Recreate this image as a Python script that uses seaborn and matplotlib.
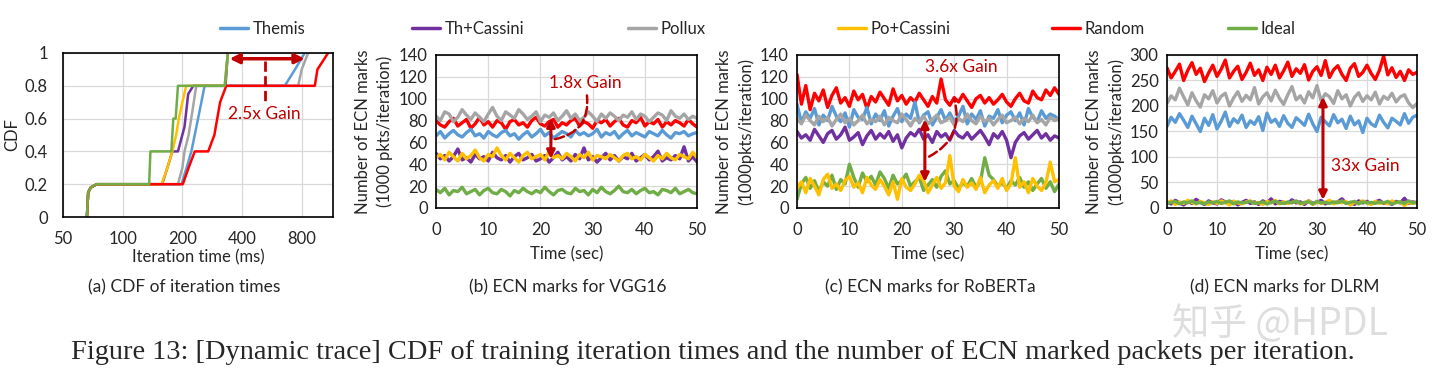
import numpy as np
import matplotlib.pyplot as plt
import seaborn as sns
from matplotlib.lines import Line2D
from matplotlib.ticker import FixedLocator, NullLocator

sns.set_style("whitegrid", {"grid.color": "#d9d9d9", "axes.edgecolor": "black"})
plt.rcParams['font.family'] = ['Lato', 'DejaVu Sans']

names = ['Themis', 'Th+Cassini', 'Pollux', 'Po+Cassini', 'Random', 'Ideal']
colors = ['#5B9BD5', '#7030A0', '#A5A5A5', '#FFC000', '#FF0000', '#70AD47']
gain_red = '#C00000'

# (a) CDF of iteration times (ms)
cdf_time = {
    'Themis':     [66, 67, 69, 74, 198, 210, 222, 240, 259, 657, 740, 828],
    'Th+Cassini': [66, 67, 69, 74, 158, 168, 178, 190, 205, 214, 227, 330, 339],
    'Pollux':     [66, 67, 69, 74, 190, 200, 205, 215, 225, 235, 767, 800, 861],
    'Po+Cassini': [66, 67, 69, 74, 157, 168, 178, 186, 192, 200, 209, 327, 339],
    'Random':     [66, 67, 69, 74, 201, 215, 231, 270, 290, 310, 333, 931, 960, 1086],
    'Ideal':      [66, 67, 69, 74, 136, 138, 176, 180, 185, 190, 327, 339],
}
cdf_val = {
    'Themis':     [0, .15, .18, .2, .2, .3, .4, .6, .8, .8, .9, 1],
    'Th+Cassini': [0, .15, .18, .2, .2, .3, .4, .4, .55, .75, .8, .8, 1],
    'Pollux':     [0, .15, .18, .2, .2, .3, .4, .5, .65, .8, .8, .9, 1],
    'Po+Cassini': [0, .15, .18, .2, .2, .3, .4, .5, .6, .7, .8, .8, 1],
    'Random':     [0, .15, .18, .2, .2, .3, .4, .4, .5, .7, .8, .8, .9, 1],
    'Ideal':      [0, .15, .18, .2, .2, .4, .4, .6, .6, .8, .8, 1],
}
iter_ticks = [50, 100, 200, 400, 800]

# ECN marks over time, 61 samples in 0..50 s
t_sec = np.linspace(0, 50, 61)

vgg = {
    'Pollux': [84, 80, 88, 86, 79, 83, 90, 85, 81, 87,
               83, 79, 86, 92, 84, 80, 88, 85, 82, 90,
               86, 81, 84, 88, 79, 85, 83, 87, 80, 84,
               89, 82, 86, 80, 83, 88, 84, 79, 86, 82,
               87, 84, 80, 85, 83, 88, 81, 86, 84, 79,
               83, 87, 85, 80, 89, 84, 82, 86, 81, 84, 82],
    'Random': [80, 76, 74, 79, 82, 75, 78, 81, 73, 77,
               83, 76, 79, 74, 80, 78, 72, 79, 81, 76,
               78, 74, 80, 83, 77, 75, 79, 81, 74, 78,
               76, 80, 82, 75, 79, 77, 73, 80, 78, 81,
               75, 79, 82, 76, 74, 80, 78, 83, 75, 79,
               77, 81, 74, 79, 76, 80, 78, 75, 81, 77, 74],
    'Themis': [66, 70, 64, 68, 71, 67, 65, 69, 72, 66,
               68, 64, 70, 67, 65, 69, 71, 66, 68, 63,
               67, 70, 65, 68, 72, 66, 69, 64, 67, 70,
               68, 65, 71, 67, 69, 66, 68, 72, 65, 69,
               67, 70, 64, 68, 71, 66, 69, 67, 65, 70,
               68, 66, 71, 67, 64, 69, 68, 70, 66, 68, 69],
    'Th+Cassini': [50, 45, 48, 43, 47, 54, 44, 46, 42, 49,
                   45, 47, 43, 51, 46, 44, 48, 42, 47, 50,
                   44, 46, 49, 43, 45, 48, 42, 46, 51, 44,
                   47, 43, 49, 45, 55, 44, 47, 42, 46, 50,
                   44, 48, 43, 47, 45, 50, 43, 46, 49, 44,
                   47, 52, 43, 46, 44, 48, 45, 56, 43, 47, 42],
    'Po+Cassini': [46, 49, 44, 51, 47, 43, 50, 45, 48, 53,
                   46, 43, 49, 47, 55, 48, 44, 50, 46, 42,
                   48, 51, 45, 47, 49, 44, 52, 46, 48, 45,
                   50, 47, 43, 49, 46, 51, 44, 48, 47, 45,
                   49, 46, 43, 48, 50, 45, 47, 44, 49, 46,
                   43, 48, 45, 50, 46, 44, 49, 47, 45, 51, 46],
    'Ideal': [17, 14, 18, 12, 16, 15, 19, 13, 15, 17,
              12, 16, 18, 14, 13, 17, 15, 11, 16, 14,
              18, 15, 13, 16, 14, 19, 15, 12, 16, 17,
              14, 13, 18, 15, 16, 12, 17, 14, 19, 15,
              13, 16, 20, 15, 14, 17, 13, 16, 18, 14,
              15, 12, 17, 16, 14, 18, 13, 15, 17, 14, 13],
}

roberta = {
    'Random': [122, 95, 112, 90, 105, 98, 108, 92, 103, 110,
               96, 101, 93, 107, 99, 104, 91, 102, 97, 106,
               100, 94, 109, 98, 103, 95, 101, 97, 105, 99,
               93, 102, 96, 118, 99, 94, 101, 97, 104, 98,
               92, 100, 103, 96, 101, 95, 99, 104, 97, 93,
               100, 105, 98, 96, 107, 101, 99, 108, 103, 110, 104],
    'Themis': [95, 78, 88, 82, 91, 76, 85, 80, 93, 84,
               79, 87, 74, 90, 83, 81, 92, 77, 86, 80,
               89, 75, 84, 91, 79, 86, 82, 97, 78, 85,
               88, 76, 83, 90, 80, 87, 79, 84, 93, 77,
               86, 81, 89, 75, 84, 82, 90, 78, 85, 88,
               80, 87, 76, 91, 83, 79, 89, 82, 86, 84, 81],
    'Pollux': [82, 77, 85, 80, 76, 84, 79, 83, 75, 81,
               86, 78, 82, 76, 80, 85, 77, 81, 79, 84,
               76, 83, 80, 78, 86, 81, 75, 82, 79, 84,
               77, 81, 85, 78, 80, 83, 76, 82, 79, 86,
               80, 77, 84, 79, 82, 76, 81, 85, 78, 80,
               83, 77, 82, 79, 85, 78, 81, 76, 83, 80, 82],
    'Th+Cassini': [70, 64, 67, 62, 72, 66, 60, 68, 71, 63,
                   67, 74, 62, 65, 69, 58, 66, 71, 63, 68,
                   64, 70, 61, 67, 55, 64, 69, 66, 72, 63,
                   67, 60, 70, 65, 68, 62, 71, 66, 64, 69,
                   63, 67, 71, 65, 58, 68, 64, 70, 62, 46,
                   60, 66, 69, 63, 67, 71, 64, 68, 62, 66, 64],
    'Ideal': [8, 22, 28, 18, 25, 15, 24, 20, 30, 17,
              26, 22, 40, 28, 19, 32, 24, 29, 21, 33,
              27, 18, 30, 22, 25, 31, 20, 24, 28, 16,
              21, 26, 19, 29, 34, 22, 25, 18, 23, 20,
              27, 19, 24, 46, 30, 26, 20, 23, 18, 25,
              21, 28, 19, 24, 16, 22, 27, 18, 24, 15, 22],
    'Po+Cassini': [18, 24, 14, 27, 20, 12, 26, 31, 18, 22,
                   16, 25, 29, 19, 23, 14, 28, 21, 17, 26,
                   20, 12, 24, 8, 27, 19, 16, 22, 30, 25,
                   14, 21, 28, 18, 23, 48, 20, 15, 26, 19,
                   23, 17, 28, 14, 21, 25, 18, 27, 16, 22,
                   46, 19, 24, 14, 27, 20, 16, 23, 42, 24, 26],
}

dlrm = {
    'Random': [275, 255, 268, 282, 250, 270, 285, 262, 274, 248,
               265, 280, 258, 272, 290, 255, 268, 278, 252, 266,
               284, 260, 271, 250, 276, 262, 280, 255, 269, 286,
               258, 273, 264, 281, 251, 268, 277, 260, 289, 256,
               271, 279, 262, 250, 274, 283, 258, 266, 280, 264,
               252, 270, 298, 261, 275, 256, 268, 250, 271, 262, 266],
    'Pollux': [205, 220, 212, 235, 218, 202, 226, 210, 198, 222,
               214, 230, 206, 219, 225, 200, 216, 228, 209, 221,
               212, 236, 204, 218, 226, 210, 231, 215, 203, 222,
               238, 212, 220, 206, 228, 216, 240, 210, 224, 218,
               205, 230, 214, 222, 200, 217, 226, 209, 220, 212,
               227, 204, 219, 213, 225, 208, 218, 222, 206, 197, 205],
    'Themis': [160, 178, 168, 185, 172, 158, 180, 165, 150, 176,
               162, 183, 155, 170, 188, 160, 175, 167, 182, 158,
               171, 164, 179, 152, 186, 168, 174, 160, 181, 166,
               158, 177, 170, 162, 184, 165, 150, 178, 169, 161,
               183, 167, 174, 156, 180, 163, 171, 148, 176, 165,
               160, 182, 168, 157, 176, 170, 163, 185, 166, 178, 182],
    'Th+Cassini': [12, 8, 15, 10, 6, 13, 9, 17, 11, 7,
                   14, 10, 8, 16, 12, 9, 13, 6, 11, 15,
                   9, 12, 7, 14, 10, 18, 8, 13, 11, 9,
                   16, 10, 12, 7, 14, 9, 11, 15, 8, 13,
                   10, 12, 18, 9, 11, 7, 14, 10, 13, 8,
                   12, 15, 9, 11, 7, 13, 10, 19, 9, 12, 10],
    'Po+Cassini': [10, 14, 7, 12, 9, 15, 11, 8, 13, 10,
                   7, 12, 9, 14, 11, 6, 13, 10, 8, 12,
                   14, 9, 11, 7, 13, 10, 15, 8, 12, 9,
                   11, 13, 8, 10, 14, 7, 12, 9, 11, 15,
                   8, 12, 10, 13, 6, 11, 9, 14, 10, 7,
                   13, 9, 11, 8, 14, 10, 12, 5, 11, 9, 12],
    'Ideal': [9, 11, 13, 8, 12, 10, 14, 9, 11, 8,
              12, 10, 13, 9, 11, 14, 8, 12, 10, 11,
              13, 9, 10, 12, 8, 11, 13, 10, 9, 12,
              10, 14, 9, 11, 12, 8, 13, 10, 11, 9,
              12, 10, 14, 9, 11, 13, 8, 12, 10, 11,
              9, 12, 10, 13, 8, 11, 12, 9, 14, 10, 11],
}

fs = 12
lw = 2.4
color_of = dict(zip(names, colors))

fig = plt.figure(figsize=(14.4, 3.92), dpi=100)
ax_a = fig.add_axes([0.04375, 0.4464, 0.1875, 0.4184])
ax_b = fig.add_axes([0.3028, 0.4694, 0.1813, 0.3903])
ax_c = fig.add_axes([0.5535, 0.4694, 0.1819, 0.3903])
ax_d = fig.add_axes([0.8104, 0.4694, 0.1736, 0.3903])


def frame(ax, xpad, ypad):
    for sp in ax.spines.values():
        sp.set_color('black')
        sp.set_linewidth(1.2)
    ax.grid(True, color='#d9d9d9', lw=0.9)
    ax.tick_params(labelsize=fs, length=0)
    ax.tick_params(axis='x', pad=xpad)
    ax.tick_params(axis='y', pad=ypad)


# ---- (a)
for name in names:
    sns.lineplot(x=cdf_time[name], y=cdf_val[name], sort=False, estimator=None,
                 color=color_of[name], lw=1.8, ax=ax_a)
ax_a.set_xscale('log', base=2)
ax_a.set_xlim(50, 1150)
ax_a.set_ylim(0, 1)
ax_a.xaxis.set_major_locator(FixedLocator(iter_ticks))
ax_a.xaxis.set_minor_locator(NullLocator())
ax_a.set_xticklabels([str(v) for v in iter_ticks])
ax_a.set_yticks([0, 0.2, 0.4, 0.6, 0.8, 1])
ax_a.set_yticklabels(['0', '0.2', '0.4', '0.6', '0.8', '1'])
frame(ax_a, 10, 11)
ax_a.set_xlabel('Iteration time (ms)', fontsize=fs, labelpad=2)
ax_a.set_ylabel('CDF', fontsize=fs, labelpad=3)
ax_a.annotate('', xy=(828, 0.965), xytext=(346, 0.965),
              arrowprops=dict(arrowstyle='<|-|>', color=gain_red, lw=2.5,
                              mutation_scale=14, shrinkA=0, shrinkB=0))
ax_a.plot([520, 520], [0.95, 0.71], ls='--', color=gain_red, lw=2)
ax_a.text(520, 0.63, '2.5x Gain', ha='center', va='center', color=gain_red, fontsize=12.5)


def ecn_panel(ax, data, order, ymax, ystep, ylabel):
    for name in order:
        sns.lineplot(x=t_sec, y=data[name], color=color_of[name], lw=lw, ax=ax)
    ax.set_xlim(0, 50)
    ax.set_ylim(0, ymax)
    ax.set_xticks(range(0, 51, 10))
    ax.set_yticks(range(0, ymax + 1, ystep))
    frame(ax, 10, 6)
    ax.set_xlabel('Time (sec)', fontsize=fs, labelpad=6)
    ax.set_ylabel(ylabel, fontsize=fs, linespacing=1.4)


ecn_panel(ax_b, vgg, ['Random', 'Pollux', 'Themis', 'Th+Cassini', 'Po+Cassini', 'Ideal'],
          140, 20, 'Number of ECN marks\n(1000 pkts/iteration)')
ax_b.annotate('', xy=(22, 45), xytext=(22, 82),
              arrowprops=dict(arrowstyle='<|-|>', color=gain_red, lw=2.2,
                              mutation_scale=12, shrinkA=0, shrinkB=0))
ax_b.annotate('', xy=(28.9, 103), xytext=(22.8, 63),
              arrowprops=dict(arrowstyle='-', color=gain_red, lw=1.8, ls='--',
                              connectionstyle='arc3,rad=0.45', shrinkA=0, shrinkB=0))
ax_b.text(28.5, 114, '1.8x Gain', ha='center', va='center', color=gain_red, fontsize=12.5)

ecn_panel(ax_c, roberta, ['Random', 'Themis', 'Pollux', 'Th+Cassini', 'Ideal', 'Po+Cassini'],
          140, 20, 'Number of ECN marks\n(1000pkts/iteration)')
ax_c.annotate('', xy=(24.4, 24), xytext=(24.4, 81),
              arrowprops=dict(arrowstyle='<|-|>', color=gain_red, lw=2.2,
                              mutation_scale=12, shrinkA=0, shrinkB=0))
ax_c.annotate('', xy=(30, 100), xytext=(25.2, 47),
              arrowprops=dict(arrowstyle='-', color=gain_red, lw=1.8, ls='--',
                              connectionstyle='arc3,rad=0.4', shrinkA=0, shrinkB=0))
ax_c.text(31.4, 129, '3.6x Gain', ha='center', va='center', color=gain_red, fontsize=12.5)

ecn_panel(ax_d, dlrm, ['Random', 'Pollux', 'Themis', 'Th+Cassini', 'Po+Cassini', 'Ideal'],
          300, 50, 'Number of ECN marks\n(1000pkts/iteration)')
ax_d.annotate('', xy=(31.2, 16), xytext=(31.2, 218),
              arrowprops=dict(arrowstyle='<|-|>', color=gain_red, lw=2.2,
                              mutation_scale=12, shrinkA=0, shrinkB=0))
ax_d.text(32.9, 82, '33x Gain', ha='left', va='center', color=gain_red, fontsize=12.5)

# legend, one entry per slot along the top
legend_x = [220, 412, 628, 838, 1052, 1228]
for name, c, x in zip(names, colors, legend_x):
    fig.legend([Line2D([], [], color=c, lw=2.5)], [name], loc='center left',
               bbox_to_anchor=(x / 1440, 0.926), frameon=False, fontsize=fs,
               handlelength=1.7, handletextpad=0.25, borderpad=0, borderaxespad=0)

# sub-captions
fig.text(0.128, 0.266, '(a) CDF of iteration times', ha='center', va='center', fontsize=12.5)
fig.text(0.394, 0.266, '(b) ECN marks for VGG16', ha='center', va='center', fontsize=12.5)
fig.text(0.646, 0.266, '(c) ECN marks for RoBERTa', ha='center', va='center', fontsize=12.5)
fig.text(0.892, 0.266, '(d) ECN marks for DLRM', ha='center', va='center', fontsize=12.5)

fig.text(0.495, 0.102,
         'Figure 13: [Dynamic trace] CDF of training iteration times and the number of ECN marked packets per iteration.',
         ha='center', va='center', fontsize=20.4, family=['Liberation Serif', 'DejaVu Serif'])
fig.text(0.889, 0.172, '知乎 @HPDL', ha='center', va='center', fontsize=27,
         color='#d6d6d6', alpha=0.8, family=['Noto Sans CJK SC', 'DejaVu Sans'])

fig.savefig('out.png', dpi=100)
